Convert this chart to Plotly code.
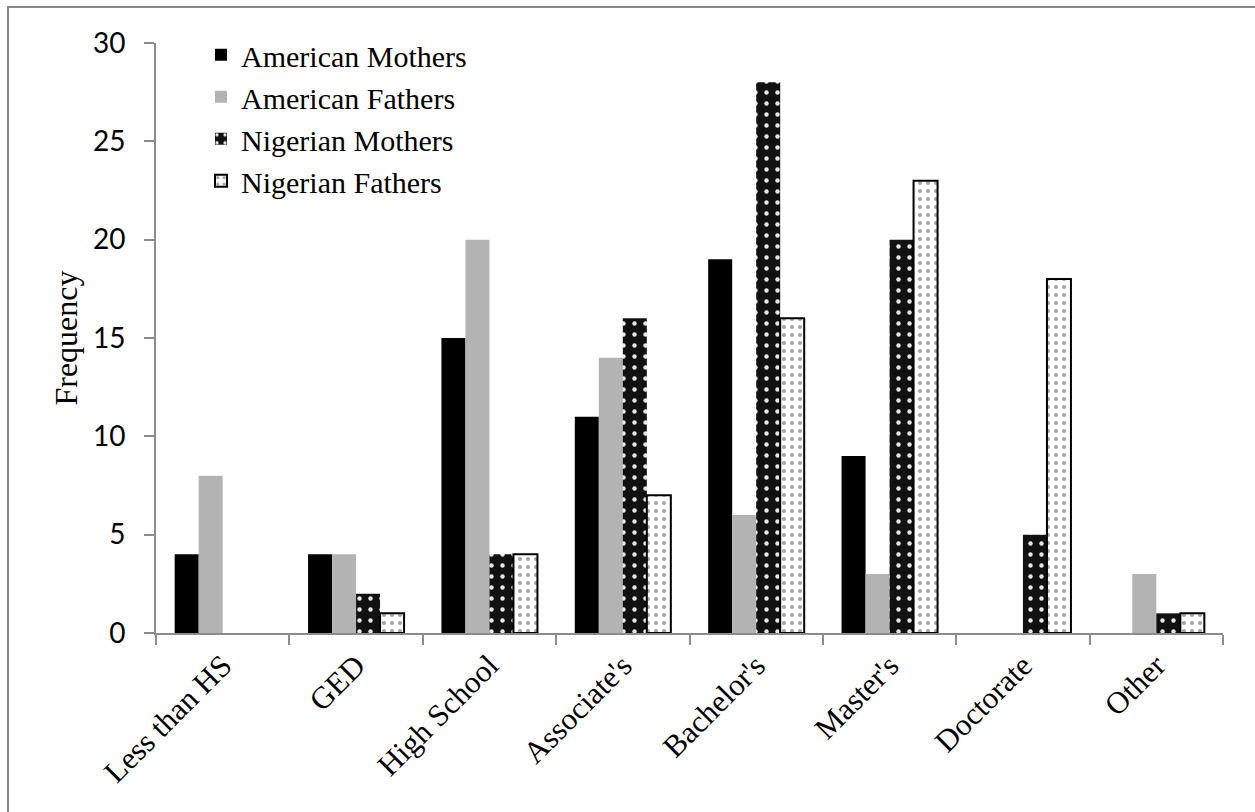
import plotly.graph_objects as go

# Highest education level reported, by parent group
categories = ["Less than HS", "GED", "High School", "Associate's",
              "Bachelor's", "Master's", "Doctorate", "Other"]
american_mothers = [4, 4, 15, 11, 19, 9, None, None]
american_fathers = [8, 4, 20, 14, 6, 3, None, 3]
nigerian_mothers = [None, 2, 4, 16, 28, 20, 5, 1]
nigerian_fathers = [None, 1, 4, 7, 16, 23, 18, 1]
y_ticks = [0, 5, 10, 15, 20, 25, 30]

SERIF = "Liberation Serif, Times New Roman, serif"
SANS = "Lato, Carlito, Calibri, sans-serif"
AXIS_GRAY = "#8c8c8c"

fig = go.Figure()
fig.add_trace(go.Bar(
    name="American Mothers", x=categories, y=american_mothers,
    marker=dict(color="#000000", line=dict(width=0)),
))
fig.add_trace(go.Bar(
    name="American Fathers", x=categories, y=american_fathers,
    marker=dict(color="#b3b3b3", line=dict(width=0)),
))
fig.add_trace(go.Bar(
    name="Nigerian Mothers", x=categories, y=nigerian_mothers,
    marker=dict(
        color="#111111", line=dict(width=0),
        pattern=dict(shape=".", bgcolor="#111111", fgcolor="#e6e6e6",
                     size=11, solidity=0.13, fillmode="replace"),
    ),
))
fig.add_trace(go.Bar(
    name="Nigerian Fathers", x=categories, y=nigerian_fathers,
    marker=dict(
        color="#ffffff", line=dict(width=2, color="#000000"),
        pattern=dict(shape=".", bgcolor="#ffffff", fgcolor="#a6a6a6",
                     size=8, solidity=0.22, fillmode="replace"),
    ),
))

# frame around the whole chart
fig.add_shape(type="rect", xref="paper", yref="paper",
              x0=(8 - 156) / 1067, x1=1.2, y0=-0.5, y1=(633 - 7) / 590,
              line=dict(color="#878787", width=2), fillcolor="rgba(0,0,0,0)",
              layer="below")

fig.update_layout(
    width=1255, height=812,
    margin=dict(l=156, r=32, t=43, b=179, autoexpand=False),
    paper_bgcolor="#ffffff", plot_bgcolor="#ffffff",
    barmode="group", bargap=0.28, bargroupgap=0,
    showlegend=True,
    legend=dict(
        x=(201 - 156) / 1067, y=1.024, xanchor="left", yanchor="top",
        font=dict(family=SERIF, size=30, color="#000000"),
        bgcolor="rgba(0,0,0,0)", tracegroupgap=0, itemwidth=30,
    ),
    xaxis=dict(
        type="category", showline=True, linecolor=AXIS_GRAY, linewidth=2,
        ticks="outside", tickson="boundaries", ticklen=10,
        tickcolor=AXIS_GRAY, tickwidth=2, tickangle=-45,
        tickfont=dict(family=SERIF, size=31, color="#000000"),
        showgrid=False, zeroline=False,
    ),
    yaxis=dict(
        range=[0, 30], tickvals=y_ticks, showline=True, linecolor=AXIS_GRAY,
        linewidth=2, ticks="outside", ticklen=10, tickcolor=AXIS_GRAY,
        tickwidth=2, ticklabelstandoff=13,
        tickfont=dict(family=SANS, size=28, color="#000000"),
        showgrid=False, zeroline=False,
        title=dict(text="Frequency", standoff=6,
                   font=dict(family=SERIF, size=32, color="#000000")),
    ),
)

fig.write_html("out.html")
